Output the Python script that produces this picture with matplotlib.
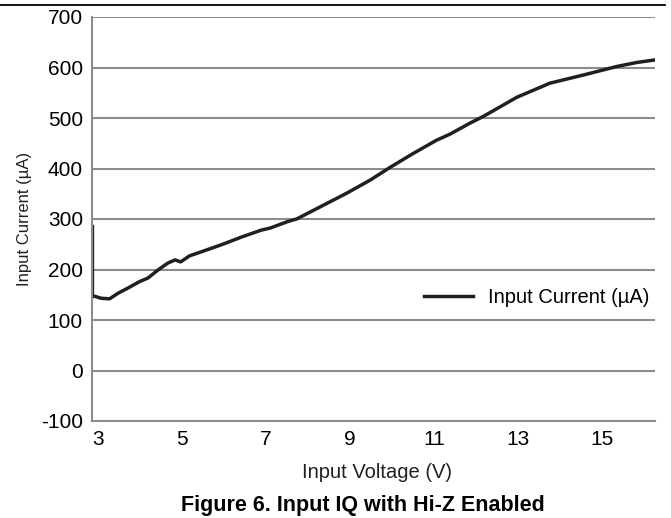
import matplotlib
matplotlib.use("Agg")
import matplotlib.pyplot as plt
from matplotlib.lines import Line2D

plt.rcParams['font.family'] = ['Liberation Sans', 'DejaVu Sans']
plt.rcParams['axes.unicode_minus'] = False

# input voltage (V) and input current (uA)
vin = [2.87, 2.87, 2.92, 3.08, 3.28, 3.48, 3.71, 3.99, 4.19, 4.43, 4.67, 4.84, 4.97,
       5.18, 5.46, 5.94, 6.41, 6.89, 7.10, 7.52, 7.73, 8.29, 8.92, 9.48, 9.95, 10.51,
       11.06, 11.38, 11.86, 12.17, 12.97, 13.76, 14.55, 15.35, 15.83, 16.26]
iin = [285, 146, 147, 143, 142, 153, 163, 176, 183, 199, 213, 219, 215,
       227, 235, 249, 264, 278, 282, 295, 300, 324, 351, 377, 402, 430,
       456, 468, 490, 503, 541, 569, 585, 602, 610, 615]

xticks = [3, 5, 7, 9, 11, 13, 15]
yticks = [-100, 0, 100, 200, 300, 400, 500, 600, 700]

W, H = 671, 518
fig = plt.figure(figsize=(W / 100, H / 100), dpi=100)
ax = fig.add_axes([92 / W, 1 - 421 / H, (655 - 92) / W, (421 - 17) / H])

ax.plot(vin, iin, color="#231f20", lw=2.5, label="Input Current (µA)")

ax.set_xlim(2.86, 16.26)
ax.set_ylim(-100, 700)
ax.set_xticks(xticks)
ax.set_yticks(yticks)
ax.tick_params(length=0, labelsize=15, colors="black")
ax.tick_params(axis="y", pad=6.5)
ax.tick_params(axis="x", pad=6.5)

grid_c = "#8c8c8c"
for y in yticks[1:]:
    ax.axhline(y, color=grid_c, lw=1.5, zorder=0)
for s in ["top", "right"]:
    ax.spines[s].set_visible(False)
for s in ["left", "bottom"]:
    ax.spines[s].set_color(grid_c)
    ax.spines[s].set_linewidth(1.5)

ax.set_xlabel("Input Voltage (V)", fontsize=14.5, color="#231f20")
ax.xaxis.set_label_coords((377 - 92) / 563, -(473 - 421) / 404)
ax.xaxis.label.set_va("center")
ax.set_ylabel("Input Current (µA)", fontsize=12, color="#231f20")
ax.yaxis.set_label_coords((25 - 92) / 563, 0.5)
ax.yaxis.label.set_va("center")

ax.legend(loc="center left", bbox_to_anchor=(0.558, 0.306), frameon=False,
          fontsize=14.5, handlelength=2.4, handletextpad=0.75)

# rule across the top and caption
fig.add_artist(Line2D([0, 665 / W], [1 - 5 / H, 1 - 5 / H], color="black", lw=1.3))
fig.text(363 / W, 1 - 505 / H, "Figure 6. Input IQ with Hi-Z Enabled",
         ha="center", va="center", fontsize=15.5, fontweight="bold")

fig.savefig("out.png", dpi=100)
